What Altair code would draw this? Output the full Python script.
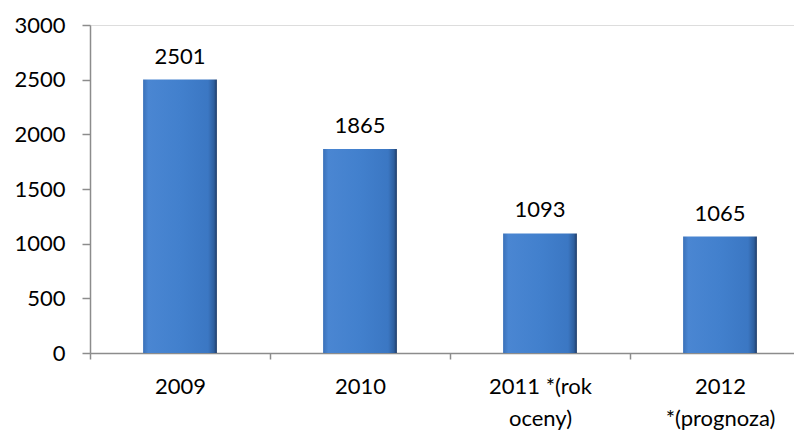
import altair as alt
import pandas as pd

categories = ["2009", "2010", "2011 *(rok\noceny)", "2012\n*(prognoza)"]
values = [2501, 1865, 1093, 1065]
y_ticks = [0, 500, 1000, 1500, 2000, 2500, 3000]

df = pd.DataFrame({"cat": categories, "val": values})

FONT = "Lato"
FS = 22
AXIS_COLOR = "#8c8c8c"

grad = alt.Gradient(
    gradient="linear",
    x1=0, x2=1, y1=0, y2=0,
    stops=[
        alt.GradientStop(offset=0, color="#3a71b9"),
        alt.GradientStop(offset=0.07, color="#4a86d2"),
        alt.GradientStop(offset=0.5, color="#4280cd"),
        alt.GradientStop(offset=0.88, color="#3b77c3"),
        alt.GradientStop(offset=0.96, color="#2e5f9e"),
        alt.GradientStop(offset=1, color="#1e3b66"),
    ],
)

x = alt.X(
    "cat:N",
    sort=categories,
    title=None,
    scale=alt.Scale(paddingInner=0, paddingOuter=0, range=[0, 720]),
    axis=alt.Axis(
        labelAngle=0,
        labelFont=FONT,
        labelFontSize=FS,
        labelColor="#000000",
        labelExpr="split(datum.label, '\\n')",
        labelLineHeight=32,
        labelBaseline="top",
        labelPadding=17,
        tickSize=6,
        tickBand="extent",
        tickColor=AXIS_COLOR,
        domainColor=AXIS_COLOR,
        domainWidth=1.5,
        tickWidth=1.5,
        labelLimit=300,
    ),
)

y = alt.Y(
    "val:Q",
    title=None,
    scale=alt.Scale(domain=[0, 3000]),
    axis=alt.Axis(
        values=y_ticks,
        format="d",
        grid=False,
        labelFont=FONT,
        labelFontSize=FS,
        labelColor="#000000",
        labelPadding=17,
        tickSize=8,
        tickColor=AXIS_COLOR,
        domainColor=AXIS_COLOR,
        domainWidth=1.5,
        tickWidth=1.5,
    ),
)

bars = alt.Chart(df).mark_bar(
    width=alt.RelativeBandSize(0.41),
    color=grad,
).encode(x=x, y=y)

labels = alt.Chart(df).mark_text(
    dy=-23, font=FONT, fontSize=FS, color="#000000"
).encode(x=x, y=y, text=alt.Text("val:Q", format="d"))

chart = (
    alt.layer(bars, labels)
    .properties(
        width=704,
        height=328,
        autosize=alt.AutoSizeParams(type="none"),
        padding={"left": 82, "top": 17, "right": 0, "bottom": 79},
    )
    .configure_view(stroke=None)
    .configure(background="white")
)

chart.save("out.html", embed_options={"renderer": "svg", "actions": False})
